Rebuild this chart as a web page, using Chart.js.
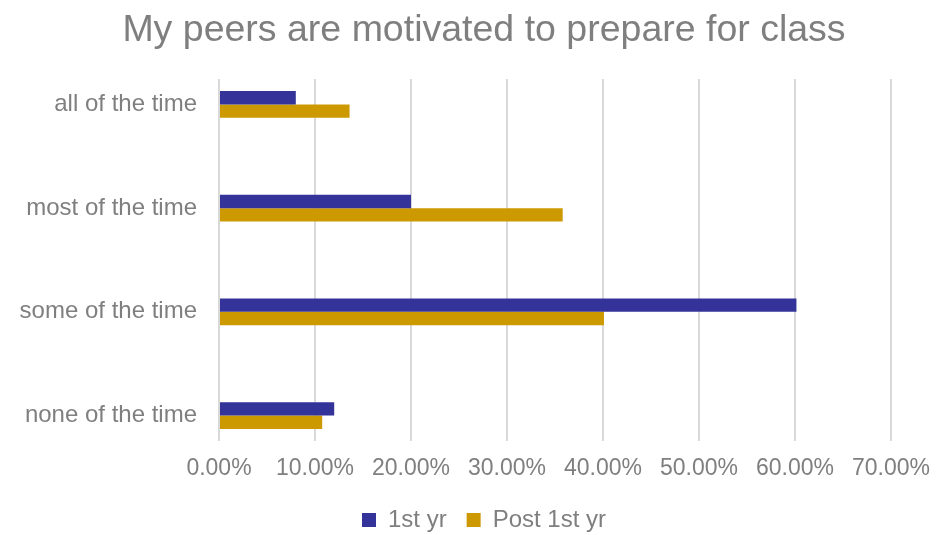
<!DOCTYPE html>
<html>
<head>
<meta charset="utf-8">
<script src="https://cdn.jsdelivr.net/npm/chart.js@4/dist/chart.umd.min.js"></script>
<style>
  html, body { margin: 0; padding: 0; background: #ffffff; }
  #wrap { width: 948px; height: 535px; }
</style>
</head>
<body>
<div id="wrap"><canvas id="chart" width="948" height="535"></canvas></div>
<script>
// Survey responses: share of students per answer
const categories = ['all of the time', 'most of the time', 'some of the time', 'none of the time'];
const firstYear = [8.0, 20.0, 60.15, 12.0];       // 1st yr, percent
const postFirstYear = [13.6, 35.8, 40.1, 10.75];  // Post 1st yr, percent
const xTicks = [0, 10, 20, 30, 40, 50, 60, 70];   // percent axis ticks

const TEXT = '#7f7f7f';
const FONT = "'Liberation Sans', Arial, sans-serif";

// category index on a linear scale so the band spacing can be tuned
const toPoints = (vals) => vals.map((v, i) => ({ x: v, y: i }));

new Chart(document.getElementById('chart'), {
  type: 'bar',
  data: {
    datasets: [
      {
        label: '1st yr',
        data: toPoints(firstYear),
        backgroundColor: '#333399',
        categoryPercentage: 0.257,
        barPercentage: 1.0
      },
      {
        label: 'Post 1st yr',
        data: toPoints(postFirstYear),
        backgroundColor: '#cc9900',
        categoryPercentage: 0.257,
        barPercentage: 1.0
      }
    ]
  },
  options: {
    indexAxis: 'y',
    responsive: false,
    animation: false,
    layout: { padding: { left: 20, right: 0, top: 0, bottom: -7 } },
    plugins: {
      title: {
        display: true,
        text: 'My peers are motivated to prepare for class',
        color: TEXT,
        font: { family: FONT, size: 37.5, weight: 'normal', lineHeight: 1.2 },
        padding: { top: 8, bottom: 26 }
      },
      legend: {
        position: 'bottom',
        labels: {
          color: TEXT,
          font: { family: FONT, size: 24 },
          boxWidth: 14,
          boxHeight: 14,
          padding: 20
        }
      },
      tooltip: { enabled: false }
    },
    scales: {
      x: {
        type: 'linear',
        position: 'bottom',
        min: 0,
        max: 70,
        afterBuildTicks: (s) => { s.ticks = xTicks.map(v => ({ value: v })); },
        afterFit: (s) => { s.paddingRight = 57; s.paddingLeft = 0; s.height = 47; },
        ticks: {
          color: TEXT,
          font: { family: FONT, size: 23 },
          padding: 14,
          callback: (v) => Number(v).toFixed(2) + '%'
        },
        grid: { color: '#d9d9d9', lineWidth: 2, drawTicks: false },
        border: { display: false }
      },
      y: {
        type: 'linear',
        reverse: true,
        offset: false,
        min: -0.245,
        max: 3.245,
        afterBuildTicks: (s) => { s.ticks = categories.map((c, i) => ({ value: i })); },
        afterFit: (s) => { s.width = 199; },
        ticks: {
          color: TEXT,
          font: { family: FONT, size: 24 },
          padding: 22,
          callback: (v) => categories[v]
        },
        grid: { display: false, drawTicks: false },
        border: { display: false }
      }
    }
  }
});
</script>
</body>
</html>
